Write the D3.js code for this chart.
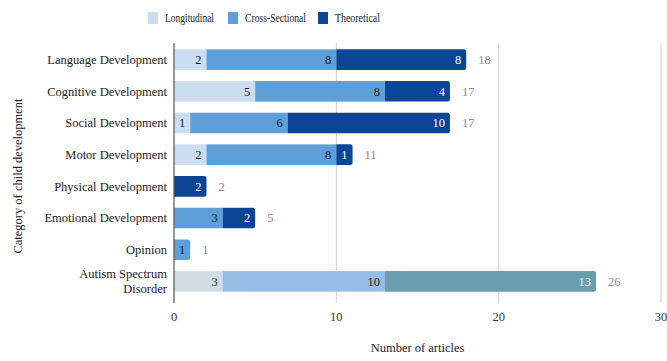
<!DOCTYPE html>
<html>
<head>
<meta charset="utf-8">
<script src="https://cdn.jsdelivr.net/npm/d3@7"></script>
<style>
  html, body { margin: 0; padding: 0; background: #fff; }
</style>
</head>
<body>
<svg id="chart" width="667" height="361"></svg>
<script>
// Articles by category of child development and study design
const categories = [
  "Language Development", "Cognitive Development", "Social Development",
  "Motor Development", "Physical Development", "Emotional Development",
  "Opinion", "Autism Spectrum Disorder"
];
const seriesNames = ["Longitudinal", "Cross-Sectional", "Theoretical"];
const longitudinal = [2, 5, 1, 2, 0, 0, 0, 3];
const crossSectional = [8, 8, 6, 8, 0, 3, 1, 10];
const theoretical = [8, 4, 10, 1, 2, 2, 0, 13];
const xTicks = [0, 10, 20, 30];

const seriesColors = ["#cbddf1", "#5e9fd9", "#0b4593"];
// the ASD row is shaded with its own palette
const highlightRow = "Autism Spectrum Disorder";
const highlightColors = ["#cfdde3", "#95bde6", "#6a9db0"];
const labelColorsDefault = ["#222", "#222", "#fff"];
const labelColorsHighlight = ["#333", "#222", "#eef3f5"];

const FONT = "Liberation Serif";
const FS = 12.5;

const rows = categories.map((c, i) => ({
  category: c,
  Longitudinal: longitudinal[i],
  "Cross-Sectional": crossSectional[i],
  Theoretical: theoretical[i]
}));

const svg = d3.select("#chart");
const W = 667, H = 361;
const plot = { left: 174, right: 661, top: 43, bottom: 303, bandBottom: 298 };

const x = d3.scaleLinear().domain([0, 30]).range([plot.left, plot.right]);
const y = d3.scaleBand().domain(categories)
  .range([plot.top, plot.bandBottom]).paddingInner(0.35).paddingOuter(0.2);

// grid lines
svg.append("g").selectAll("line").data(xTicks.filter(t => t > 0)).join("line")
  .attr("x1", d => x(d)).attr("x2", d => x(d))
  .attr("y1", plot.top).attr("y2", plot.bottom)
  .attr("stroke", "#cfcfcf").attr("stroke-width", 1);

const stack = d3.stack().keys(seriesNames);
const stacked = stack(rows);

// bars
const barG = svg.append("g");
rows.forEach((row, ri) => {
  const segs = stacked.map((s, si) => ({ si, x0: s[ri][0], x1: s[ri][1], v: s[ri][1] - s[ri][0] }))
    .filter(d => d.v > 0);
  const isHi = row.category === highlightRow;
  const colors = isHi ? highlightColors : seriesColors;
  const lcol = isHi ? labelColorsHighlight : labelColorsDefault;
  const y0 = y(row.category), h = y.bandwidth();
  segs.forEach((d, k) => {
    const xa = x(d.x0), xb = x(d.x1);
    const last = k === segs.length - 1;
    const r = 2.5;
    if (last) {
      barG.append("path")
        .attr("d", `M${xa},${y0}H${xb - r}Q${xb},${y0} ${xb},${y0 + r}V${y0 + h - r}Q${xb},${y0 + h} ${xb - r},${y0 + h}H${xa}Z`)
        .attr("fill", colors[d.si]);
    } else {
      barG.append("rect").attr("x", xa).attr("y", y0).attr("width", xb - xa).attr("height", h)
        .attr("fill", colors[d.si]);
    }
    barG.append("text")
      .attr("x", xb - 5).attr("y", y0 + h / 2).attr("dy", "0.35em")
      .attr("text-anchor", "end").attr("font-size", FS)
      .attr("fill", lcol[d.si]).text(d.v);
  });
  const total = segs.length ? segs[segs.length - 1].x1 : 0;
  barG.append("text")
    .attr("x", x(total) + 12).attr("y", y0 + h / 2).attr("dy", "0.35em")
    .attr("font-size", FS).attr("fill", "#8a8a8a").text(total);
});

// zero axis line
svg.append("line")
  .attr("x1", x(0)).attr("x2", x(0)).attr("y1", plot.top).attr("y2", plot.bottom)
  .attr("stroke", "#555").attr("stroke-width", 1.2);

// x tick labels
svg.append("g").selectAll("text").data(xTicks).join("text")
  .attr("x", d => x(d)).attr("y", 317).attr("dy", "0.35em")
  .attr("text-anchor", "middle").attr("font-size", FS).attr("fill", "#333")
  .text(d => d);

// category labels
const catG = svg.append("g");
categories.forEach(c => {
  const cy = y(c) + y.bandwidth() / 2;
  const t = catG.append("text").attr("x", x(0) - 7).attr("text-anchor", "end")
    .attr("font-size", FS).attr("fill", "#222");
  if (c === "Autism Spectrum Disorder") {
    t.append("tspan").attr("x", x(0) - 7).attr("y", cy - 7.5).attr("dy", "0.35em").text("Autism Spectrum");
    t.append("tspan").attr("x", x(0) - 7).attr("y", cy + 7.5).attr("dy", "0.35em").text("Disorder");
  } else {
    t.attr("y", cy).attr("dy", "0.35em").text(c);
  }
});

// axis titles
svg.append("text").attr("x", (x(0) + x(30)) / 2).attr("y", 348).attr("dy", "0.35em")
  .attr("text-anchor", "middle").attr("font-size", FS).attr("fill", "#222")
  .text("Number of articles");
svg.append("text")
  .attr("transform", `translate(18,${(plot.top + plot.bottom) / 2 + 3}) rotate(-90)`)
  .attr("text-anchor", "middle").attr("dy", "0.35em").attr("font-size", FS).attr("fill", "#222")
  .text("Category of child development");

// legend (condensed lettering)
const legendItems = [
  { name: seriesNames[0], color: seriesColors[0], x: 148, w: 49 },
  { name: seriesNames[1], color: seriesColors[1], x: 228, w: 61 },
  { name: seriesNames[2], color: seriesColors[2], x: 318, w: 45 }
];
const lg = svg.append("g");
legendItems.forEach(it => {
  lg.append("rect").attr("x", it.x).attr("y", 12).attr("width", 10).attr("height", 12).attr("fill", it.color);
  lg.append("text").attr("x", it.x + 17).attr("y", 18).attr("dy", "0.35em")
    .attr("font-size", FS).attr("fill", "#222")
    .attr("textLength", it.w).attr("lengthAdjust", "spacingAndGlyphs")
    .text(it.name);
});

svg.selectAll("text").style("font-family", FONT);
</script>
</body>
</html>
